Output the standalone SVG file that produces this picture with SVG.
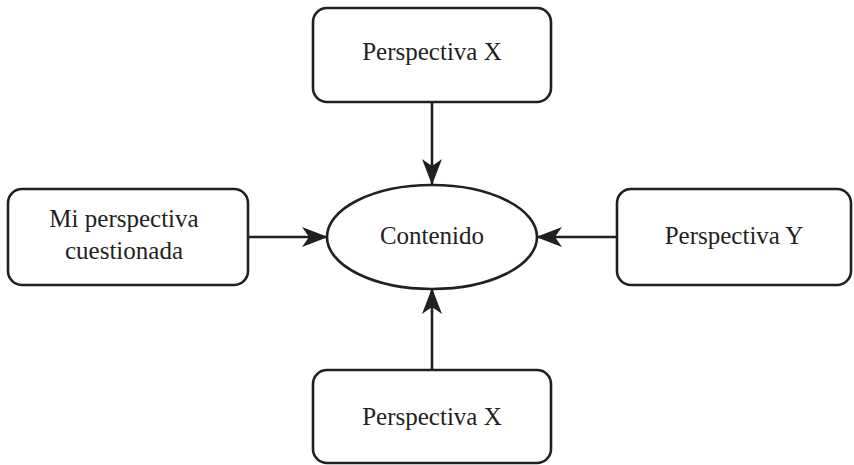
<svg xmlns="http://www.w3.org/2000/svg" width="854" height="465" viewBox="0 0 854 465">
  <style>
    .box { fill: #ffffff; stroke: #231f20; stroke-width: 2.6; }
    .lbl { font-family: "Liberation Serif", "DejaVu Serif", serif; font-size: 25px; fill: #231f20; text-anchor: middle; }
    .edge { stroke: #231f20; stroke-width: 2.6; fill: none; }
  </style>
  <defs>
    <marker id="arrow" viewBox="0 0 26 20" refX="25" refY="10" markerWidth="26" markerHeight="20" markerUnits="userSpaceOnUse" orient="auto">
      <path d="M0,0 L26,10 L0,20 L7,10 Z" fill="#231f20"/>
    </marker>
  </defs>
  <rect width="854" height="465" fill="#ffffff"/>

  <g id="connectors">
    <line class="edge" x1="432" y1="102" x2="432" y2="184" marker-end="url(#arrow)"/>
    <line class="edge" x1="248" y1="237" x2="327" y2="237" marker-end="url(#arrow)"/>
    <line class="edge" x1="617" y1="237" x2="537" y2="237" marker-end="url(#arrow)"/>
    <line class="edge" x1="432" y1="370" x2="432" y2="289" marker-end="url(#arrow)"/>
  </g>

  <g id="node-top">
    <rect class="box" x="313" y="8" width="238" height="94" rx="14"/>
    <text class="lbl" x="432" y="60">Perspectiva X</text>
  </g>

  <g id="node-left">
    <rect class="box" x="8" y="189" width="240" height="96" rx="14"/>
    <text class="lbl" x="124" y="227">Mi perspectiva</text>
    <text class="lbl" x="124" y="259">cuestionada</text>
  </g>

  <g id="node-center">
    <ellipse class="box" cx="432" cy="237" rx="105" ry="52"/>
    <text class="lbl" x="432" y="244">Contenido</text>
  </g>

  <g id="node-right">
    <rect class="box" x="617" y="189" width="234" height="96" rx="14"/>
    <text class="lbl" x="734" y="244">Perspectiva Y</text>
  </g>

  <g id="node-bottom">
    <rect class="box" x="313" y="370" width="238" height="93" rx="14"/>
    <text class="lbl" x="432" y="425">Perspectiva X</text>
  </g>
</svg>
